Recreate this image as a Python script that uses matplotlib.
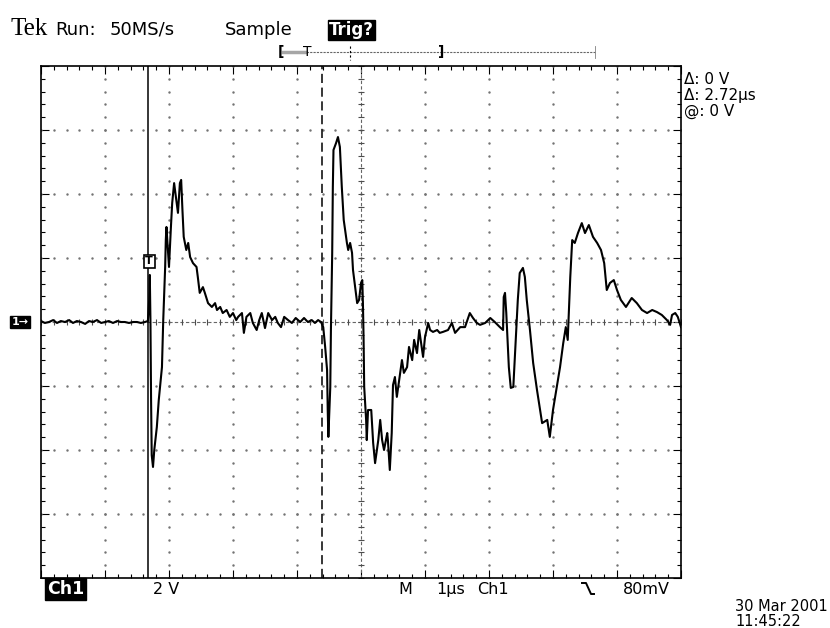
#!/usr/bin/env python
# Tek scope screen grab: Ch1 trace with two time cursors
import numpy as np
import matplotlib.pyplot as plt
from matplotlib.ticker import MultipleLocator

# trace readings: time in us from left edge of screen, volts (2 V/div)
time_us = [0.00, 0.06, 0.125, 0.19, 0.25, 0.31, 0.375, 0.44, 0.50, 0.56, 0.625, 0.69,
           0.75, 0.81, 0.875, 0.94, 1.00, 1.06, 1.125, 1.19, 1.25, 1.31, 1.375, 1.44,
           1.50, 1.56, 1.625, 1.67,
           1.69, 1.70, 1.71, 1.72, 1.73, 1.75, 1.77, 1.81, 1.84, 1.89, 1.91, 1.94,
           1.95, 1.96, 1.98, 2.00, 2.03, 2.05, 2.08, 2.10, 2.12, 2.14, 2.17, 2.19,
           2.21, 2.23, 2.27, 2.30, 2.33, 2.375, 2.43, 2.45, 2.48, 2.53, 2.56, 2.61,
           2.67, 2.72, 2.75, 2.80, 2.84, 2.90, 2.95, 3.00, 3.05, 3.08, 3.14, 3.17,
           3.21, 3.27, 3.31, 3.37, 3.41,
           3.45, 3.50, 3.55, 3.61, 3.66, 3.70, 3.75, 3.80, 3.86, 3.92, 3.98, 4.05,
           4.11, 4.17, 4.23, 4.28, 4.33, 4.375, 4.41, 4.44, 4.47, 4.48, 4.49, 4.52,
           4.53, 4.55, 4.56, 4.57, 4.61, 4.64, 4.67, 4.70, 4.73, 4.78, 4.80, 4.83,
           4.86, 4.875, 4.92, 4.94, 4.97, 5.00, 5.02, 5.03, 5.04, 5.05, 5.08, 5.09,
           5.11, 5.16, 5.19, 5.22, 5.27, 5.30, 5.33, 5.36, 5.41, 5.42, 5.45, 5.48,
           5.50, 5.53, 5.56, 5.59, 5.64, 5.67, 5.72, 5.75, 5.80, 5.83, 5.875, 5.91,
           5.94, 5.97, 6.00, 6.05, 6.08, 6.125, 6.19, 6.23, 6.28, 6.36, 6.42, 6.47,
           6.55, 6.625, 6.70, 6.75, 6.81, 6.86, 6.94, 7.02, 7.09, 7.17, 7.22, 7.23,
           7.25, 7.27, 7.28, 7.31, 7.34, 7.38, 7.41, 7.45, 7.48, 7.53, 7.56, 7.59,
           7.64, 7.69, 7.75, 7.83, 7.91, 7.95, 8.00, 8.06, 8.11, 8.16, 8.20, 8.23,
           8.27, 8.30, 8.34, 8.39, 8.45, 8.50, 8.56, 8.625, 8.69, 8.75, 8.80, 8.84,
           8.89, 8.95, 9.00, 9.06, 9.14, 9.23, 9.31, 9.39, 9.47, 9.55, 9.625, 9.70,
           9.78, 9.83, 9.86, 9.91, 9.95, 10.0]
volts = [0.03, -0.03, 0.0, 0.06, -0.03, 0.03, 0.0, 0.06, -0.03, 0.03, 0.0, -0.06,
         0.03, 0.0, 0.06, -0.03, 0.0, 0.03, -0.03, 0.03, 0.0, 0.0, -0.03, 0.0,
         0.0, -0.03, 0.0, 0.03,
         0.69, 1.47, 0.06, -2.44, -4.16, -4.53, -4.0, -3.28, -2.44, -1.41, 0.06, 1.72,
         2.56, 2.97, 2.34, 1.72, 2.97, 3.72, 4.34, 4.03, 3.72, 3.41, 4.34, 4.44,
         3.5, 2.66, 2.25, 2.47, 2.03, 1.84, 1.72, 1.41, 0.91, 1.09, 0.91, 0.59,
         0.47, 0.59, 0.375, 0.47, 0.28, 0.375, 0.16, 0.28, 0.06, 0.16, 0.28, -0.34,
         0.16, 0.28, -0.03, -0.25, 0.06,
         0.28, -0.19, 0.28, 0.06, 0.16, -0.03, -0.16, 0.16, 0.06, -0.03, 0.125, 0.0,
         0.125, 0.0, 0.06, -0.03, 0.06, 0.0, -0.16, -0.78, -1.5, -2.75, -3.59, -2.03,
         -0.25, 2.16, 4.22, 5.375, 5.59, 5.78, 5.47, 4.22, 3.19, 2.47, 2.25, 2.47,
         2.16, 1.625, 0.91, 0.59, 0.69, 1.22, 1.31, 0.59, -0.47, -2.03, -3.06, -3.69,
         -2.75, -2.75, -3.78, -4.41, -3.69, -3.06, -3.69, -4.0, -3.47, -3.69, -4.625, -3.47,
         -1.97, -1.72, -2.34, -1.91, -1.19, -1.59, -1.41, -0.78, -1.19, -0.56, -0.97, -0.25,
         -0.66, -1.09, -0.47, -0.03, -0.25, -0.31, -0.25, -0.34, -0.31, -0.25, -0.03, -0.34,
         -0.16, -0.16, 0.28, 0.125, -0.03, -0.09, -0.03, 0.125, 0.0, -0.16, -0.25, 0.78,
         0.91, 0.28, -0.16, -1.41, -2.06, -2.03, -0.875, 0.69, 1.53, 1.69, 1.41, 0.69,
         -0.25, -1.28, -2.125, -3.16, -3.06, -3.59, -2.75, -2.03, -1.41, -0.66, -0.16, -0.56,
         1.41, 2.56, 2.47, 2.78, 3.09, 2.78, 3.03, 2.66, 2.47, 2.25, 1.84, 1.0,
         1.22, 1.31, 1.0, 0.69, 0.47, 0.75, 0.59, 0.375, 0.28, 0.375, 0.31, 0.22,
         0.06, -0.09, 0.22, 0.28, 0.16, -0.16]

volts_per_div = 2.0
cursor_a = 1.67     # solid cursor, us
cursor_b = 4.39     # dashed cursor, us  (delta = 2.72us)
trig_level = 1.9    # volts, "T" marker

W, H = 830, 628

fig = plt.figure(figsize=(W / 100, H / 100), dpi=100)
ax = fig.add_axes([41 / W, 1 - 578 / H, 640 / W, 512 / H])

ax.set_xlim(0, 10)
ax.set_ylim(-4 * volts_per_div, 4 * volts_per_div)

# graticule: edge ticks every 0.2 div
ax.xaxis.set_major_locator(MultipleLocator(1))
ax.xaxis.set_minor_locator(MultipleLocator(0.2))
ax.yaxis.set_major_locator(MultipleLocator(volts_per_div))
ax.yaxis.set_minor_locator(MultipleLocator(volts_per_div * 0.2))
ax.tick_params(which='both', direction='in', top=True, right=True,
               labelbottom=False, labelleft=False, color='black', width=0.8)
ax.tick_params(which='major', length=6)
ax.tick_params(which='minor', length=3)
for s in ax.spines.values():
    s.set_linewidth(1.2)

# dotted grid lines
dots = np.arange(0, 10.01, 0.2)
for gy in [-6, -4, -2, 2, 4, 6]:
    ax.plot(dots, np.full(len(dots), gy), ls='none', marker='.', ms=1.5, color='0.45')
vdots = np.arange(-8, 8.01, 0.4)
for gx in [1, 2, 3, 4, 6, 7, 8, 9]:
    ax.plot(np.full(len(vdots), gx), vdots, ls='none', marker='.', ms=1.5, color='0.45')

# centre crosshair with small ticks
ax.axhline(0, color='0.4', lw=0.8, ls=(0, (3, 2)))
ax.axvline(5, color='0.4', lw=0.8, ls=(0, (3, 2)))
ax.plot(dots, np.zeros(len(dots)), ls='none', marker='|', ms=5, mew=0.8, color='0.3')
ax.plot(np.full(len(vdots), 5), vdots, ls='none', marker='_', ms=5, mew=0.8, color='0.3')

# cursors
ax.axvline(cursor_a, color='black', lw=1.1)
ax.axvline(cursor_b, color='black', lw=1.1, ls=(0, (6, 3)))

# trace
ax.plot(time_us, volts, color='black', lw=1.5)

# trigger level marker
ax.text(cursor_a + 0.02, trig_level, 'T', ha='center', va='center', fontsize=8,
        fontweight='bold', bbox=dict(boxstyle='square,pad=0.15', fc='white', ec='black', lw=1.2))


def px(x, y):
    return x / W, 1 - y / H


# ground marker at left
fig.text(*px(20, 322), '1\u2192', ha='center', va='center', fontsize=8, color='white',
         fontweight='bold', bbox=dict(boxstyle='square,pad=0.1', fc='black', ec='black'))

# header
fig.text(*px(10, 35), 'Tek', fontsize=18, family='Liberation Serif', va='baseline')
fig.text(*px(55, 35), 'Run:', fontsize=13, va='baseline')
fig.text(*px(110, 35), '50MS/s', fontsize=13, va='baseline')
fig.text(*px(225, 35), 'Sample', fontsize=13, va='baseline')
fig.text(*px(329, 35), 'Trig?', fontsize=12, va='baseline', color='white', fontweight='bold',
         bbox=dict(boxstyle='square,pad=0.05', fc='black', ec='black'))

# record view bar
fig.add_artist(plt.Line2D([283 / W, 595 / W], [1 - 52 / H] * 2, color='0.4', lw=0.8, ls=(0, (2, 1))))
fig.add_artist(plt.Line2D([283 / W, 305 / W], [1 - 52 / H] * 2, color='0.65', lw=2.5))
fig.add_artist(plt.Line2D([350 / W, 350 / W], [1 - 46 / H, 1 - 60 / H], color='black', lw=0.8, ls=(0, (2, 2))))
fig.add_artist(plt.Line2D([595 / W, 595 / W], [1 - 46 / H, 1 - 58 / H], color='0.5', lw=0.6))
fig.text(*px(281, 52), '[', fontsize=10, ha='center', va='center', fontweight='bold')
fig.text(*px(307, 52), 'T', fontsize=10, ha='center', va='center')
fig.text(*px(441, 52), ']', fontsize=10, ha='center', va='center', fontweight='bold')

# cursor readouts
fig.text(*px(684, 84), '\u0394: 0 V', fontsize=11, va='baseline')
fig.text(*px(684, 100), '\u0394: 2.72\u00b5s', fontsize=11, va='baseline')
fig.text(*px(684, 116), '@: 0 V', fontsize=11, va='baseline')

# bottom status line
fig.text(*px(47, 594), 'Ch1', fontsize=12.5, va='baseline', color='white',
         fontweight='bold', bbox=dict(boxstyle='square,pad=0.1', fc='black', ec='black'))
fig.text(*px(153, 594), '2 V', fontsize=11.5, va='baseline')
fig.text(*px(398, 594), 'M', fontsize=11.5, va='baseline')
fig.text(*px(436, 594), '1\u00b5s', fontsize=11.5, va='baseline')
fig.text(*px(477, 594), 'Ch1', fontsize=11.5, va='baseline')
# falling-edge trigger slope glyph
fig.add_artist(plt.Line2D([582 / W, 586 / W, 591 / W, 594 / W],
                          [1 - 583 / H, 1 - 583 / H, 1 - 594 / H, 1 - 594 / H], color='black', lw=1.4))
fig.text(*px(623, 594), '80mV', fontsize=11.5, va='baseline')

fig.text(*px(735, 611), '30 Mar 2001', fontsize=10.5, va='baseline')
fig.text(*px(735, 626), '11:45:22', fontsize=10.5, va='baseline')

fig.savefig('out.png', dpi=100)
